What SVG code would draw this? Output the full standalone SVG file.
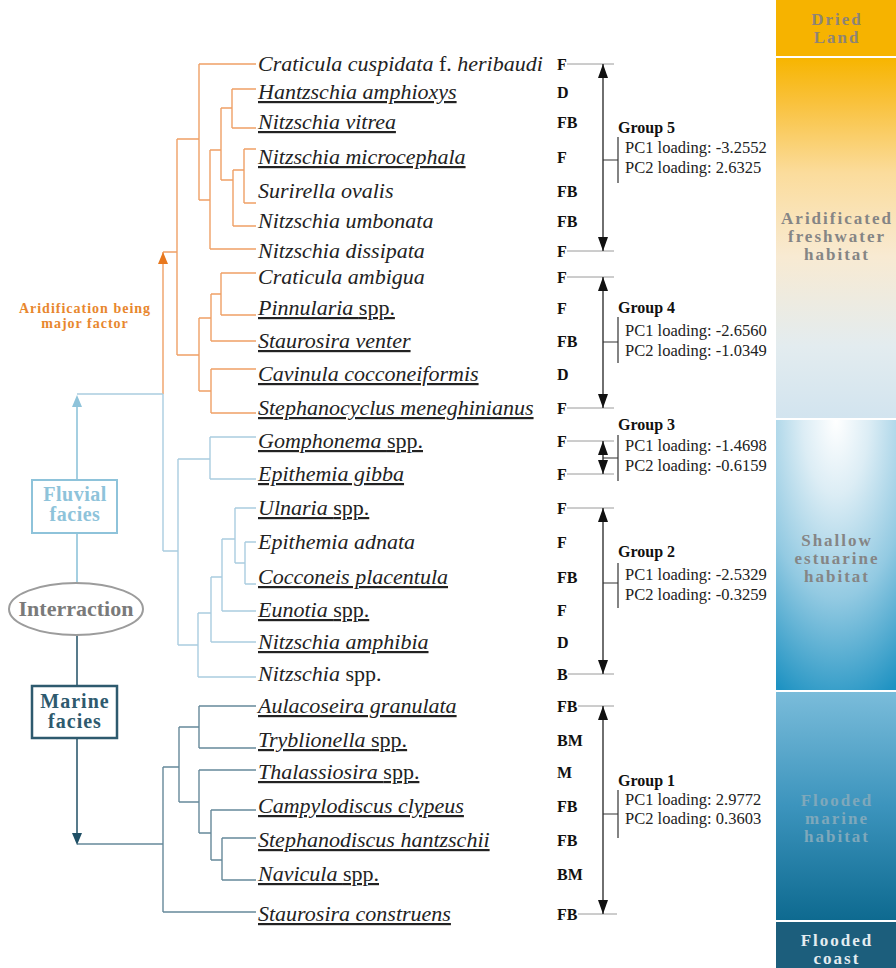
<svg xmlns="http://www.w3.org/2000/svg" width="896" height="968" viewBox="0 0 896 968">
<style>
text{font-family:"Liberation Serif","Times New Roman",serif}
.sp{font-size:22px;font-style:italic;fill:#222}
.u{text-decoration:underline}
.n{font-style:normal}
.lt{font-size:16px;font-weight:bold;fill:#111}
.gl{font-size:16px;font-weight:bold;fill:#111}
.pc{font-size:16.5px;fill:#222}
.or{fill:none;stroke:#EFA066;stroke-width:1.4}
.lb{fill:none;stroke:#AACDE0;stroke-width:1.4}
.mr{fill:none;stroke:#66899A;stroke-width:1.4}
.tk{stroke:#9a9a9a;stroke-width:1}
.ar{stroke:#222;stroke-width:1.3;marker-start:url(#ah);marker-end:url(#ah)}
.br{fill:none;stroke:#333;stroke-width:1.2}
.bt{font-size:17px;font-weight:bold;letter-spacing:2px;text-anchor:middle}
.fx{font-size:20px;font-weight:bold;text-anchor:middle}
</style>
<defs>
<marker id="ah" viewBox="0 0 14 10" refX="14" refY="5" markerWidth="14" markerHeight="10" markerUnits="userSpaceOnUse" orient="auto-start-reverse"><path d="M0,0 L14,5 L0,10 z" fill="#111"/></marker>
<linearGradient id="gArid" x1="0" y1="0" x2="0" y2="1"><stop offset="0" stop-color="#F7B500"/><stop offset="0.12" stop-color="#F9C13A"/><stop offset="0.32" stop-color="#FBDC9C"/><stop offset="0.55" stop-color="#F8EAD2"/><stop offset="0.8" stop-color="#E3ECEF"/><stop offset="1" stop-color="#D2E4EF"/></linearGradient>
<radialGradient id="gShal" cx="0.5" cy="0" r="1.1" fx="0.5" fy="0"><stop offset="0" stop-color="#FFFFFF"/><stop offset="0.25" stop-color="#DCEDF5"/><stop offset="0.6" stop-color="#93CAE2"/><stop offset="1" stop-color="#1E92C2"/></radialGradient>
<linearGradient id="gMar" x1="0" y1="0" x2="0" y2="1"><stop offset="0" stop-color="#7ABCDA"/><stop offset="0.5" stop-color="#3C94BD"/><stop offset="1" stop-color="#0E6A90"/></linearGradient>
</defs>

<g id="habitat-bar">
<rect x="776" y="0" width="120" height="56" fill="#F6B300"/>
<rect x="776" y="58" width="120" height="360" fill="url(#gArid)"/>
<rect x="776" y="420" width="120" height="270" fill="url(#gShal)"/>
<rect x="776" y="692" width="120" height="228" fill="url(#gMar)"/>
<rect x="776" y="922" width="120" height="46" fill="#1C5E7C"/>
<text class="bt" x="837" y="25" fill="#8E8476">Dried</text>
<text class="bt" x="837" y="43" fill="#8E8476">Land</text>
<text class="bt" x="837" y="224" fill="#858585">Aridificated</text>
<text class="bt" x="837" y="242" fill="#858585">freshwater</text>
<text class="bt" x="837" y="260" fill="#858585">habitat</text>
<text class="bt" x="837" y="546" fill="#858585">Shallow</text>
<text class="bt" x="837" y="564" fill="#858585">estuarine</text>
<text class="bt" x="837" y="582" fill="#858585">habitat</text>
<text class="bt" x="837" y="806" fill="#7FA8BB">Flooded</text>
<text class="bt" x="837" y="824" fill="#7FA8BB">marine</text>
<text class="bt" x="837" y="842" fill="#7FA8BB">habitat</text>
<text class="bt" x="837" y="946" fill="#E4ECF0">Flooded</text>
<text class="bt" x="837" y="964" fill="#E4ECF0">coast</text>
</g>

<g id="connectors">
<path class="or" d="M199,64H256 M232,89H256 M232,128H256 M244,149H256 M244,203H256 M233,226H256 M210,249H256
M232,89V128 M221,108H232 M244,149V203 M233,170H244 M233,170V226 M221,180H233 M221,108V180 M210,150H221
M210,150V249 M199,200H210 M199,64V200 M177,139H199
M221,273H256 M221,315H256 M211,341H256 M211,369H256 M211,413H256
M221,273V315 M211,294H221 M211,294V341 M199,318H211 M211,369V413 M199,391H211 M199,318V391 M177,355H199
M177,139V355 M163,252H177 M163,252V394"/>
<path d="M163,252 L168,264 L158,264 z" fill="#E8781E"/>
<path class="lb" d="M210,437H256 M210,479H256 M235,508H256 M245,542H256 M245,584H256 M222,611H256 M211,642H256 M198,677H256
M210,437V479 M178,459H210 M245,542V584 M235,563H245 M235,508V563 M222,539H235 M222,539V611 M211,577H222
M211,577V642 M198,613H211 M198,613V677 M178,645H198 M178,459V645 M163,551H178 M163,394V551 M77,394H163"/>
<path class="mr" d="M199,706H256 M199,748H256 M199,770H256 M211,810H256 M222,838H256 M222,880H256 M163,912H256
M199,706V748 M179,727H199 M222,838V880 M211,860H222 M211,810V860 M199,833H211 M199,770V833 M179,802H199
M179,727V802 M163,767H179 M163,767V912 M77,844H163"/>
<path d="M77,406V480" stroke="#8EC3DA" stroke-width="1.6"/>
<path d="M77,395 L82,407 L72,407 z" fill="#8EC3DA"/>
<path d="M77,533V583" stroke="#8EC3DA" stroke-width="1.6"/>
<path d="M77,635V686" stroke="#2E5A6E" stroke-width="1.6"/>
<path d="M77,738V834" stroke="#2E5A6E" stroke-width="1.6"/>
<path d="M77,845 L82,833 L72,833 z" fill="#1F4F65"/>
</g>

<g id="aridification-label">
<text x="85" y="313" font-size="14" font-weight="bold" letter-spacing="1" fill="#E8872E" text-anchor="middle">Aridification being</text>
<text x="85" y="328" font-size="14" font-weight="bold" letter-spacing="1" fill="#E8872E" text-anchor="middle">major factor</text>
</g>
<g id="fluvial">
<rect x="32" y="480" width="85" height="53" fill="#fff" stroke="#8EC3DA" stroke-width="2"/>
<text class="fx" x="75" y="501" letter-spacing="0.5" fill="#8EC3DA">Fluvial</text>
<text class="fx" x="75" y="521" letter-spacing="0.5" fill="#8EC3DA">facies</text>
</g>
<g id="interraction">
<ellipse cx="76" cy="609" rx="67" ry="26" fill="#fff" stroke="#9c9c9c" stroke-width="2"/>
<text x="76" y="616" font-size="22" font-weight="bold" fill="#7a7a7a" text-anchor="middle">Interraction</text>
</g>
<g id="marine">
<rect x="32" y="686" width="85" height="52" fill="#fff" stroke="#2E5A6E" stroke-width="2.5"/>
<text class="fx" x="75" y="708" letter-spacing="1" fill="#2E5A6E">Marine</text>
<text class="fx" x="75" y="728" letter-spacing="1" fill="#2E5A6E">facies</text>
</g>

<g id="species">
<text class="sp" x="258" y="71">Craticula cuspidata <tspan class="n">f.</tspan> heribaudi</text>
<text class="sp u" x="258" y="99">Hantzschia amphioxys</text>
<text class="sp u" x="258" y="129">Nitzschia vitrea</text>
<text class="sp u" x="258" y="164">Nitzschia microcephala</text>
<text class="sp" x="258" y="198">Surirella ovalis</text>
<text class="sp" x="258" y="228">Nitzschia umbonata</text>
<text class="sp" x="258" y="258">Nitzschia dissipata</text>
<text class="sp" x="258" y="284">Craticula ambigua</text>
<text class="sp u" x="258" y="315">Pinnularia <tspan class="n">spp.</tspan></text>
<text class="sp u" x="258" y="348">Staurosira venter</text>
<text class="sp u" x="258" y="381">Cavinula cocconeiformis</text>
<text class="sp u" x="258" y="415">Stephanocyclus meneghinianus</text>
<text class="sp u" x="258" y="448">Gomphonema <tspan class="n">spp.</tspan></text>
<text class="sp u" x="258" y="481">Epithemia gibba</text>
<text class="sp u" x="258" y="515">Ulnaria <tspan class="n">spp.</tspan></text>
<text class="sp" x="258" y="549">Epithemia adnata</text>
<text class="sp u" x="258" y="584">Cocconeis placentula</text>
<text class="sp u" x="258" y="617">Eunotia <tspan class="n">spp.</tspan></text>
<text class="sp u" x="258" y="649">Nitzschia amphibia</text>
<text class="sp" x="258" y="681">Nitzschia <tspan class="n">spp.</tspan></text>
<text class="sp u" x="258" y="713">Aulacoseira granulata</text>
<text class="sp u" x="258" y="747">Tryblionella <tspan class="n">spp.</tspan></text>
<text class="sp u" x="258" y="779">Thalassiosira <tspan class="n">spp.</tspan></text>
<text class="sp u" x="258" y="813">Campylodiscus clypeus</text>
<text class="sp u" x="258" y="847">Stephanodiscus hantzschii</text>
<text class="sp u" x="258" y="881">Navicula <tspan class="n">spp.</tspan></text>
<text class="sp u" x="258" y="921">Staurosira construens</text>
</g>

<g id="habitat-codes">
<path class="tk" d="M567,64H614 M567,251H614 M567,277H614 M567,408H614 M567,441H614 M567,474H614 M567,508H614 M568,674H614 M578,706H614 M578,914H617"/>
<text class="lt" x="557" y="70">F</text>
<text class="lt" x="557" y="98">D</text>
<text class="lt" x="557" y="128">FB</text>
<text class="lt" x="557" y="163">F</text>
<text class="lt" x="557" y="197">FB</text>
<text class="lt" x="557" y="227">FB</text>
<text class="lt" x="557" y="257">F</text>
<text class="lt" x="557" y="283">F</text>
<text class="lt" x="557" y="314">F</text>
<text class="lt" x="557" y="347">FB</text>
<text class="lt" x="557" y="380">D</text>
<text class="lt" x="557" y="414">F</text>
<text class="lt" x="557" y="447">F</text>
<text class="lt" x="557" y="480">F</text>
<text class="lt" x="557" y="514">F</text>
<text class="lt" x="557" y="548">F</text>
<text class="lt" x="557" y="583">FB</text>
<text class="lt" x="557" y="616">F</text>
<text class="lt" x="557" y="648">D</text>
<text class="lt" x="557" y="680">B</text>
<text class="lt" x="557" y="712">FB</text>
<text class="lt" x="557" y="746">BM</text>
<text class="lt" x="557" y="778">M</text>
<text class="lt" x="557" y="812">FB</text>
<text class="lt" x="557" y="846">FB</text>
<text class="lt" x="557" y="880">BM</text>
<text class="lt" x="557" y="920">FB</text>
</g>

<g id="group5">
<line class="ar" x1="603" y1="64" x2="603" y2="251"/>
<path class="br" d="M603,160H618 M618,137V183"/>
<text class="gl" x="618" y="133">Group 5</text>
<text class="pc" x="625" y="153">PC1 loading: -3.2552</text>
<text class="pc" x="625" y="173">PC2 loading: 2.6325</text>
</g>
<g id="group4">
<line class="ar" x1="603" y1="277" x2="603" y2="408"/>
<path class="br" d="M603,342H618 M618,317V363"/>
<text class="gl" x="618" y="313">Group 4</text>
<text class="pc" x="625" y="336">PC1 loading: -2.6560</text>
<text class="pc" x="625" y="356">PC2 loading: -1.0349</text>
</g>
<g id="group3">
<line class="ar" x1="603" y1="441" x2="603" y2="474"/>
<path class="br" d="M603,458H618 M618,435V481"/>
<text class="gl" x="618" y="430">Group 3</text>
<text class="pc" x="625" y="451">PC1 loading: -1.4698</text>
<text class="pc" x="625" y="471">PC2 loading: -0.6159</text>
</g>
<g id="group2">
<line class="ar" x1="603" y1="508" x2="603" y2="674"/>
<path class="br" d="M603,583H618 M618,563V608"/>
<text class="gl" x="618" y="557">Group 2</text>
<text class="pc" x="625" y="580">PC1 loading: -2.5329</text>
<text class="pc" x="625" y="600">PC2 loading: -0.3259</text>
</g>
<g id="group1">
<line class="ar" x1="603" y1="706" x2="603" y2="914"/>
<path class="br" d="M603,814H618 M618,790V838"/>
<text class="gl" x="618" y="786">Group 1</text>
<text class="pc" x="625" y="805">PC1 loading: 2.9772</text>
<text class="pc" x="625" y="824">PC2 loading: 0.3603</text>
</g>
</svg>
